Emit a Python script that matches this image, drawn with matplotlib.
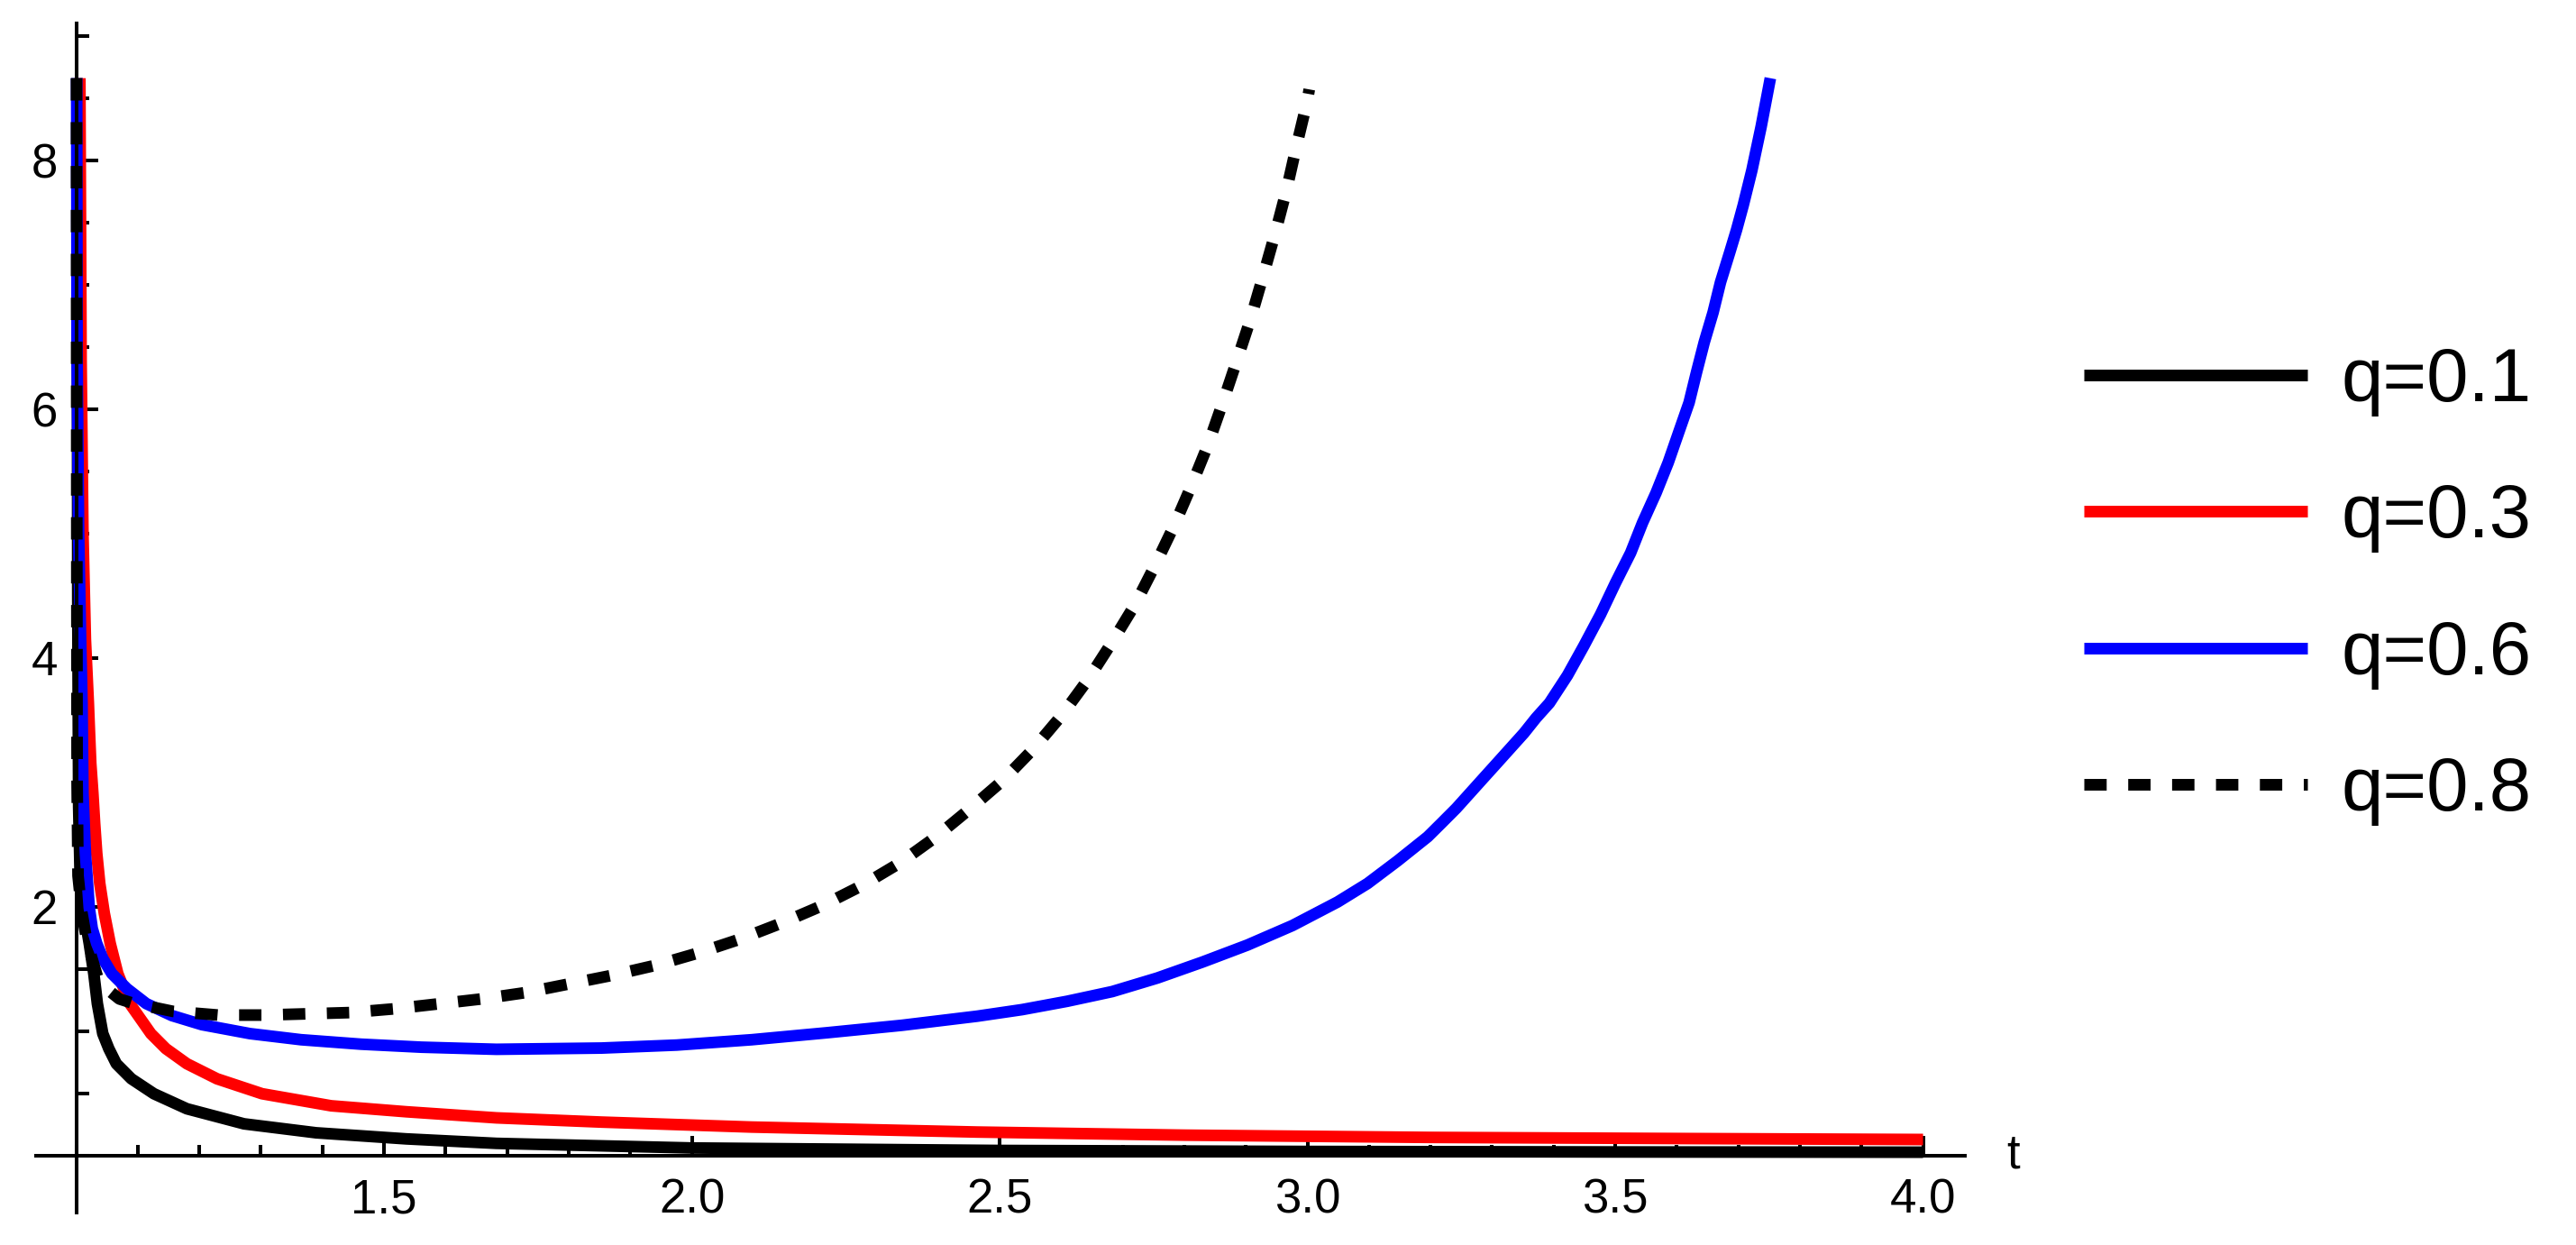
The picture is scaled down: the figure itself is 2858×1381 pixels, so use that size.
import numpy as np
import matplotlib.pyplot as plt
from matplotlib.ticker import MultipleLocator, FixedLocator

plt.rcParams['font.family'] = ['Liberation Sans', 'DejaVu Sans']

# curves (t, value)
t_q01 = [1.0015, 1.0025, 1.004, 1.0066, 1.0129, 1.0212, 1.0286, 1.0344, 1.0432, 1.053,
         1.0652, 1.0896, 1.1262, 1.1798, 1.2726, 1.3897, 1.5362, 1.6826, 2.0, 2.5,
         3.0, 3.5, 4.0]
v_q01 = [8.66, 4.5, 2.8, 2.19, 1.947, 1.705, 1.464, 1.222, 0.981, 0.86,
         0.739, 0.618, 0.498, 0.377, 0.256, 0.184, 0.135, 0.099, 0.062, 0.042,
         0.034, 0.03, 0.028]

t_q03 = [1.006, 1.008, 1.011, 1.015, 1.0198, 1.0217, 1.0237, 1.0271, 1.030, 1.0334,
         1.0383, 1.0457, 1.0553, 1.0676, 1.0871, 1.1213, 1.1457, 1.1798, 1.2287, 1.3019,
         1.4141, 1.5362, 1.6826, 1.8533, 2.0974, 2.4634, 2.8, 3.1954, 3.6, 4.0]
v_q03 = [8.66, 6.4, 5.0, 4.15, 3.638, 3.396, 3.154, 2.913, 2.671, 2.430,
         2.188, 1.947, 1.705, 1.464, 1.222, 0.981, 0.860, 0.739, 0.618, 0.498,
         0.401, 0.353, 0.304, 0.27, 0.23, 0.19, 0.165, 0.147, 0.138, 0.13]

t_q06 = [1.0008, 1.0015, 1.004, 1.007, 1.0095, 1.011, 1.015, 1.0212, 1.0261, 1.0334,
         1.0432, 1.0578, 1.0823, 1.1139, 1.1555, 1.2042, 1.2823, 1.3653, 1.463, 1.5605,
         1.6826, 1.8533, 1.9754, 2.0974, 2.2194, 2.3414, 2.4634, 2.5366, 2.6098, 2.683,
         2.7562, 2.8294, 2.9026, 2.9758, 3.049, 3.0978, 3.1466, 3.1954, 3.2174, 3.2418,
         3.2638, 3.2858, 3.3077, 3.3297, 3.3517, 3.3712, 3.3931, 3.4224, 3.4493, 3.4761,
         3.5005, 3.525, 3.5444, 3.5664, 3.586, 3.603, 3.620, 3.632, 3.6445, 3.659,
         3.671, 3.686, 3.697, 3.708, 3.722, 3.737, 3.752]
v_q06 = [8.66, 6.4, 5.0, 4.2, 3.638, 2.913, 2.430, 1.995, 1.826, 1.705,
         1.585, 1.464, 1.343, 1.222, 1.126, 1.053, 0.981, 0.932, 0.896, 0.872,
         0.855, 0.865, 0.889, 0.932, 0.988, 1.048, 1.121, 1.174, 1.241, 1.319,
         1.428, 1.556, 1.693, 1.850, 2.039, 2.188, 2.370, 2.563, 2.671, 2.792,
         2.913, 3.034, 3.154, 3.275, 3.396, 3.517, 3.638, 3.86, 4.10, 4.35,
         4.604, 4.845, 5.087, 5.328, 5.570, 5.812, 6.053, 6.295, 6.536, 6.778,
         7.02, 7.26, 7.44, 7.64, 7.92, 8.27, 8.66]

t_q08 = [1.0005, 1.001, 1.0015, 1.003, 1.009, 1.0175, 1.035, 1.05, 1.07, 1.089,
         1.157, 1.231, 1.302, 1.374, 1.444, 1.516, 1.588, 1.659, 1.729, 1.80,
         1.871, 1.941, 2.011, 2.078, 2.146, 2.212, 2.276, 2.337, 2.396, 2.45,
         2.504, 2.555, 2.601, 2.644, 2.683, 2.72, 2.753, 2.784, 2.812, 2.839,
         2.863, 2.886, 2.908, 2.928, 2.948, 2.966, 2.982, 2.999, 3.003]
v_q08 = [8.66, 5.0, 3.0, 2.25, 1.96, 1.72, 1.43, 1.34, 1.26, 1.23,
         1.16, 1.13, 1.13, 1.14, 1.15, 1.18, 1.22, 1.26, 1.31, 1.38,
         1.45, 1.53, 1.63, 1.74, 1.87, 2.01, 2.17, 2.35, 2.56, 2.78,
         3.01, 3.27, 3.54, 3.83, 4.13, 4.43, 4.75, 5.07, 5.39, 5.72,
         6.06, 6.40, 6.73, 7.07, 7.42, 7.76, 8.11, 8.46, 8.57]

labels = ['q=0.1', 'q=0.3', 'q=0.6', 'q=0.8']
x_major = [1.5, 2.0, 2.5, 3.0, 3.5, 4.0]
y_major = [2, 4, 6, 8]

W, H = 2858, 1381
fig = plt.figure(figsize=(W / 100, H / 100), dpi=100)
ax = fig.add_axes([40 / W, 36 / H, 2140 / W, 1319 / H])

lw = 9.3
ax.plot(t_q01, v_q01, color='black', lw=lw, label=labels[0], solid_capstyle='butt')
ax.plot(t_q03, v_q03, color='red', lw=lw, label=labels[1], solid_capstyle='butt')
ax.plot(t_q06, v_q06, color='blue', lw=lw, label=labels[2], solid_capstyle='butt')
ax.plot(t_q08, v_q08, color='black', lw=lw, label=labels[3],
        dashes=(1.92, 1.85), dash_capstyle='butt')

ax.set_xlim(0.9348, 4.068)
ax.set_ylim(-0.457, 9.10)

# axes crossing at (1, 0), Mathematica style
for s in ['top', 'right']:
    ax.spines[s].set_visible(False)
ax.spines['left'].set_position(('data', 1.0))
ax.spines['bottom'].set_position(('data', 0.0))
for s in ['left', 'bottom']:
    ax.spines[s].set_linewidth(2.9)

ax.xaxis.set_major_locator(FixedLocator(x_major))
ax.xaxis.set_minor_locator(MultipleLocator(0.1))
ax.yaxis.set_major_locator(FixedLocator(y_major))
ax.yaxis.set_minor_locator(MultipleLocator(0.5))
ax.set_xticklabels([f'{v:.1f}' for v in x_major])
ax.set_yticklabels([str(v) for v in y_major])

ax.tick_params(axis='x', which='major', direction='in', length=15.5, width=2.9,
               labelsize=38, pad=18)
ax.tick_params(axis='x', which='minor', direction='in', length=8.5, width=2.9)
ax.tick_params(axis='y', which='major', direction='in', length=17, width=2.9,
               labelsize=38, pad=15)
ax.tick_params(axis='y', which='minor', direction='in', length=10, width=2.9)

ax.text(4.147, 0, 't', fontsize=38, ha='center', va='center', clip_on=False)

fig.legend(loc='center left', bbox_to_anchor=(2312 / W, 1 - 650 / H),
           frameon=False, fontsize=60, handlelength=2.98, handletextpad=0.45,
           labelspacing=0.88, borderpad=0, borderaxespad=0)

fig.savefig('out.png', dpi=100)
